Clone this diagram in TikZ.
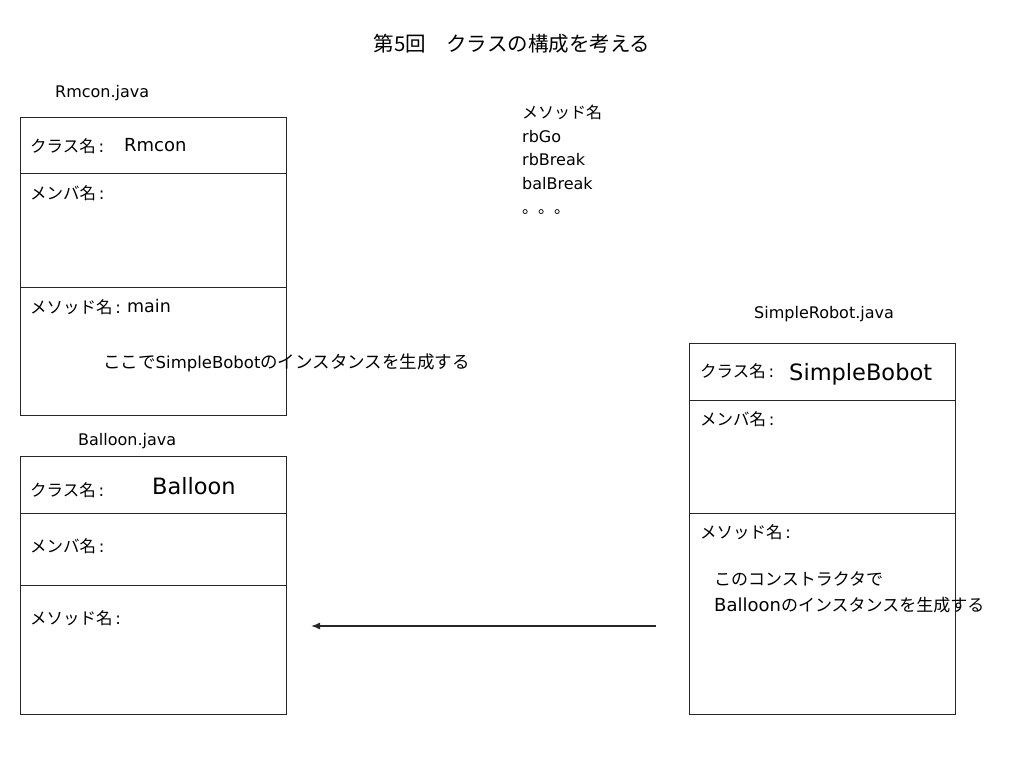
\documentclass[tikz,border=0pt]{standalone}
\usepackage{fontspec}
\setmainfont{DejaVu Sans}
\newfontfamily\jp{Noto Sans CJK JP}
\usetikzlibrary{arrows.meta}
\newcommand{\fs}[1]{\fontsize{#1}{#1}\selectfont}
\newcommand{\lab}[1]{{\jp #1}\,:}
\begin{document}
\begin{tikzpicture}[x=1pt,y=-1pt,
  txt/.style={anchor=west,inner sep=0pt,font=\fs{16}},
  body/.style={anchor=west,inner sep=0pt,font=\fs{16.5}},
  big/.style={anchor=west,inner sep=0pt,font=\fs{22.5}},
  cls/.style={draw=black!85,line width=0.9pt,inner sep=0pt},
  div/.style={draw=black!85,line width=0.9pt},
  conn/.style={draw=black!85,line width=1.4pt,-{Latex[length=9pt,width=7pt]}}]
\useasboundingbox (0,0) rectangle (1024,768);
\fill[white] (0,0) rectangle (1024,768);
% title
\node[inner sep=0pt,font=\fs{20.5}] (title) at (512,44) {\jp 第5回　クラスの構成を考える};
% method list
\node[txt] (ml1) at (522,112) {\jp メソッド名};
\node[txt] (ml2) at (522,137) {rbGo};
\node[txt] (ml3) at (522,160) {rbBreak};
\node[txt] (ml4) at (522,184) {balBreak};
\node[txt] (ml5) at (522,212) {\jp 。。。};
% Rmcon box
\node[txt] (rmfile) at (55,93) {Rmcon.java};
\node[cls,minimum width=266pt,minimum height=298pt] (rm) at (153,266) {};
\draw[div] (20,173) -- (286,173);
\draw[div] (20,287) -- (286,287);
\node[body] (rmc) at (30,146) {\lab{クラス名}};
\node[anchor=west,inner sep=0pt,font=\fs{18}] (rmcn) at (124,145) {Rmcon};
\node[body] (rmm) at (30,193) {\lab{メンバ名}};
\node[body] (rmd) at (30,307) {\lab{メソッド名}};
\node[anchor=west,inner sep=0pt,font=\fs{17.5}] (rmdn) at (127,306) {main};
\node[body,font=\fs{17.5}] (rmnote) at (103,363) {\jp ここで{\fontspec{DejaVu Sans}\fs{16.5}SimpleBobot}のインスタンスを生成する};
% Balloon box
\node[txt] (bafile) at (78,441) {Balloon.java};
\node[cls,minimum width=266pt,minimum height=258pt] (ba) at (153,585) {};
\draw[div] (20,513) -- (286,513);
\draw[div] (20,585) -- (286,585);
\node[body] (bac) at (30,490) {\lab{クラス名}};
\node[big] (bacn) at (152,486) {Balloon};
\node[body] (bam) at (30,546) {\lab{メンバ名}};
\node[body] (bad) at (30,618) {\lab{メソッド名}};
% SimpleRobot box
\node[txt] (srfile) at (754,314) {SimpleRobot.java};
\node[cls,minimum width=266pt,minimum height=371pt] (sr) at (822,528.5) {};
\draw[div] (689,400) -- (955,400);
\draw[div] (689,513) -- (955,513);
\node[body] (src) at (700,371) {\lab{クラス名}};
\node[big] (srcn) at (789,374) {SimpleBobot};
\node[body] (srm) at (700,419) {\lab{メンバ名}};
\node[body] (srd) at (700,532) {\lab{メソッド名}};
\node[body,font=\fs{17}] (srn1) at (714,579) {\jp このコンストラクタで};
\node[body,font=\fs{17}] (srn2) at (714,605) {{\fs{18}Balloon}\jp のインスタンスを生成する};
% arrow
\coordinate (a1) at (656,626);
\coordinate (a2) at (311,626);
\draw[conn] (a1) -- (a2);
\end{tikzpicture}
\end{document}
